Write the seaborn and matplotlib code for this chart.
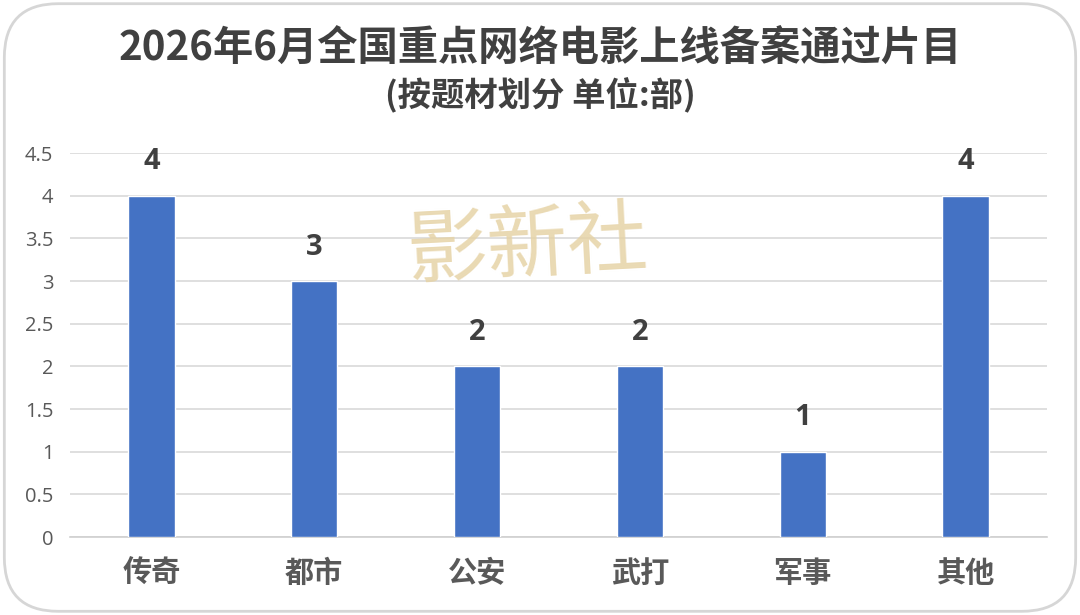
import matplotlib
matplotlib.use("Agg")
import matplotlib.pyplot as plt
from matplotlib.patches import FancyBboxPatch
import seaborn as sns
import pandas as pd

categories = ["传奇", "都市", "公安", "武打", "军事", "其他"]
values = [4, 3, 2, 2, 1, 4]
yticks = [0, 0.5, 1, 1.5, 2, 2.5, 3, 3.5, 4, 4.5]
ytick_labels = ["0", "0.5", "1", "1.5", "2", "2.5", "3", "3.5", "4", "4.5"]
title = "2026年6月全国重点网络电影上线备案通过片目"
subtitle = "(按题材划分 单位:部)"
watermark = "影新社"

sns.set_theme(style="white")
plt.rcParams["font.family"] = ["Noto Sans CJK SC", "DejaVu Sans"]

df = pd.DataFrame({"cat": categories, "val": values})

fig = plt.figure(figsize=(10.8, 6.15), dpi=100)
fig.patch.set_facecolor("white")
ax = fig.add_axes([0.0648, 0.1268, 0.9046, 0.6242])

sns.barplot(data=df, x="cat", y="val", color="#4472C4", width=0.285,
            saturation=1, ax=ax, zorder=3)

ax.set_ylim(0, 4.5)
ax.set_xlim(-0.5, len(categories) - 0.5)
ax.set_yticks(yticks)
ax.set_yticklabels(ytick_labels, fontsize=14.5, color="#595959",
                   family=["Open Sans", "DejaVu Sans"])
ax.set_xticks(range(len(categories)))
ax.set_xticklabels(categories, fontsize=21, fontweight="bold", color="#595959")
ax.tick_params(axis="x", length=0, pad=15)
ax.tick_params(axis="y", length=0, pad=12)
ax.set_xlabel("")
ax.set_ylabel("")
ax.grid(axis="y", color="#D9D9D9", linewidth=1.2, zorder=0)
for s in ["top", "right", "left"]:
    ax.spines[s].set_visible(False)
ax.spines["bottom"].set_color("#D0D0D0")
ax.spines["bottom"].set_linewidth(1.2)

for i, v in enumerate(values):
    ax.annotate(str(v), (i, v), xytext=(0, 14), textcoords="offset points",
                ha="center", va="bottom", fontsize=21, fontweight="bold",
                color="#404040", family=["Open Sans", "DejaVu Sans"])

ax.text(0.468, 0.755, watermark, transform=ax.transAxes, ha="center", va="center",
        fontsize=58, color="#E6D3A6", alpha=0.85, rotation=3, zorder=4,
        fontweight="light", style="italic")

fig.text(0.5, 0.922, title, ha="center", va="center", fontsize=29,
         fontweight="bold", color="#404040")
fig.text(0.5, 0.845, subtitle, ha="center", va="center", fontsize=24,
         fontweight="bold", color="#404040")

border = FancyBboxPatch((0.004, 0.006), 0.992, 0.988,
                        boxstyle="round,pad=0,rounding_size=0.05",
                        transform=fig.transFigure, fill=False,
                        edgecolor="#D6D6D6", linewidth=2.0,
                        mutation_aspect=1080 / 615)
fig.patches.append(border)

fig.savefig("out.png", dpi=100, facecolor="white")
